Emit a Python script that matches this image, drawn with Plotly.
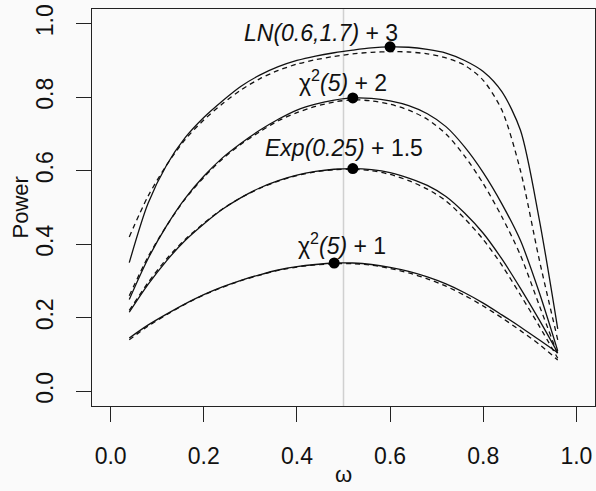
import plotly.graph_objects as go

# Grid of omega values at which power was evaluated
omega = [0.04, 0.08, 0.12, 0.16, 0.20, 0.24, 0.28, 0.32, 0.36, 0.40, 0.44, 0.48,
         0.52, 0.56, 0.60, 0.64, 0.68, 0.72, 0.76, 0.80, 0.84, 0.88, 0.92, 0.96]

# Power curves: solid = exact, dashed = approximation
ln_solid = [0.35, 0.51, 0.615, 0.69, 0.745, 0.79, 0.83, 0.86, 0.883, 0.90, 0.912, 0.921,
            0.928, 0.934, 0.937, 0.936, 0.93, 0.92, 0.90, 0.87, 0.815, 0.71, 0.47, 0.17]
ln_dash = [0.42, 0.53, 0.615, 0.685, 0.738, 0.782, 0.82, 0.85, 0.873, 0.89, 0.902, 0.911,
           0.918, 0.922, 0.924, 0.923, 0.918, 0.907, 0.887, 0.846, 0.765, 0.60, 0.36, 0.14]

chi2_solid = [0.25, 0.36, 0.45, 0.525, 0.585, 0.635, 0.675, 0.71, 0.74, 0.765, 0.781, 0.792,
              0.798, 0.797, 0.79, 0.777, 0.755, 0.72, 0.665, 0.595, 0.51, 0.41, 0.27, 0.11]
chi2_dash = [0.26, 0.365, 0.45, 0.523, 0.582, 0.632, 0.672, 0.706, 0.736, 0.758, 0.775, 0.787,
             0.793, 0.79, 0.781, 0.765, 0.74, 0.70, 0.64, 0.565, 0.475, 0.37, 0.235, 0.10]

exp_solid = [0.215, 0.29, 0.355, 0.41, 0.455, 0.495, 0.527, 0.553, 0.573, 0.588, 0.598, 0.604,
             0.606, 0.603, 0.595, 0.58, 0.56, 0.53, 0.485, 0.43, 0.36, 0.28, 0.195, 0.105]
exp_dash = [0.22, 0.295, 0.36, 0.413, 0.457, 0.496, 0.527, 0.552, 0.572, 0.587, 0.597, 0.603,
            0.604, 0.60, 0.59, 0.573, 0.55, 0.518, 0.47, 0.413, 0.343, 0.262, 0.178, 0.09]

chi1_solid = [0.145, 0.18, 0.21, 0.238, 0.263, 0.284, 0.302, 0.317, 0.33, 0.339, 0.345, 0.349,
              0.349, 0.345, 0.337, 0.326, 0.311, 0.292, 0.268, 0.24, 0.208, 0.175, 0.14, 0.105]
chi1_dash = [0.14, 0.177, 0.208, 0.237, 0.262, 0.283, 0.301, 0.316, 0.329, 0.338, 0.344, 0.347,
             0.347, 0.343, 0.334, 0.322, 0.306, 0.286, 0.261, 0.232, 0.20, 0.165, 0.128, 0.085]

# Maximum-power points and their labels
peak_omega = [0.48, 0.52, 0.52, 0.60]
peak_power = [0.349, 0.606, 0.798, 0.937]
label_omega = [0.496, 0.502, 0.499, 0.451]
label_power = [0.40, 0.663, 0.845, 0.975]
labels = ["χ<sup>2</sup><i>(5)</i> + 1",
          "<i>Exp(0.25)</i> + 1.5",
          "χ<sup>2</sup><i>(5)</i> + 2",
          "<i>LN(0.6,1.7)</i> + 3"]

FONT = "Liberation Sans, Arial, Helvetica, sans-serif"
INK = "#111111"
FS = 23

fig = go.Figure()

for solid, dashed in [(ln_solid, ln_dash), (chi2_solid, chi2_dash),
                      (exp_solid, exp_dash), (chi1_solid, chi1_dash)]:
    fig.add_trace(go.Scatter(x=omega, y=solid, mode="lines",
                             line=dict(color=INK, width=1.3, shape="spline", smoothing=0.8),
                             hoverinfo="skip", showlegend=False))
    fig.add_trace(go.Scatter(x=omega, y=dashed, mode="lines",
                             line=dict(color=INK, width=1.3, dash="5px,4px",
                                       shape="spline", smoothing=0.8),
                             hoverinfo="skip", showlegend=False))

fig.add_trace(go.Scatter(x=peak_omega, y=peak_power, mode="markers",
                         marker=dict(color="black", size=11),
                         hoverinfo="skip", showlegend=False))

# Reference line at omega = 0.5
fig.add_shape(type="line", xref="x", yref="paper", x0=0.5, x1=0.5, y0=0, y1=1,
              line=dict(color="#d0d0d0", width=1.5), layer="below")

for lx, ly, txt in zip(label_omega, label_power, labels):
    fig.add_annotation(x=lx, y=ly, xref="x", yref="y", text=txt, showarrow=False,
                       xanchor="center", yanchor="middle",
                       font=dict(family=FONT, size=FS, color=INK))

# Axis titles
fig.add_annotation(x=0, y=0.5, xref="paper", yref="paper", text="Power",
                   textangle=-90, showarrow=False, xanchor="center", yanchor="middle",
                   xshift=-72, font=dict(family=FONT, size=FS - 1, color=INK))
fig.add_annotation(x=0.5, y=0, xref="paper", yref="paper", text="ω",
                   showarrow=False, xanchor="center", yanchor="middle",
                   yshift=-68, font=dict(family=FONT, size=FS - 1, color=INK))

axis_common = dict(showgrid=False, zeroline=False, showline=True, mirror=True,
                   linecolor="#222222", linewidth=1.3, ticks="outside", ticklen=15,
                   tickwidth=1.3, tickcolor="#222222",
                   tickfont=dict(family=FONT, size=FS, color=INK),
                   tickvals=[0, 0.2, 0.4, 0.6, 0.8, 1.0], tickformat=".1f",
                   range=[-0.04, 1.04], ticklabelstandoff=14)

fig.update_xaxes(**axis_common)
fig.update_yaxes(**axis_common, tickangle=-90)

fig.update_layout(width=596, height=491, autosize=False,
                  margin=dict(l=92, r=1, t=9, b=85),
                  plot_bgcolor="#fafafa", paper_bgcolor="#fafafa")

fig.write_html("out.html")
